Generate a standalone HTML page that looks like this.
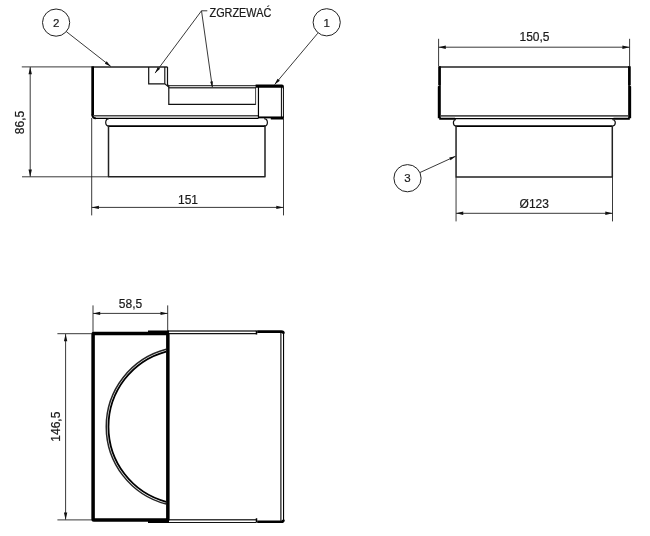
<!DOCTYPE html>
<html lang="pl">
<head>
<meta charset="utf-8">
<title>Rysunek</title>
<style>
html,body{margin:0;padding:0;background:#fff;}
body{width:650px;height:536px;overflow:hidden;}
svg{display:block;filter:grayscale(1);}
text{font-family:"Liberation Sans",sans-serif;fill:#1a1a1a;stroke:#1a1a1a;stroke-width:0.2;}
.dim{stroke:#222;stroke-width:0.9;fill:none;}
.ln{stroke:#111;stroke-width:1.2;fill:none;}
.th{stroke:#111;stroke-width:0.8;fill:none;}
.tk{stroke:#000;stroke-width:2.2;fill:none;}
.ah{fill:#111;stroke:none;}
</style>
</head>
<body>
<svg width="650" height="536" viewBox="0 0 650 536">
<rect width="650" height="536" fill="#fff"/>

<!-- ===== VIEW 1 (front) ===== -->
<g id="v1">
  <!-- extension + dimension lines -->
  <path class="dim" d="M21.8 66.9H92 M22 176.8H108.5 M30.2 67V176.6 M91.7 118V215.4 M283.5 119V215.4 M91.7 207.4H283.5"/>
  <path class="ah" d="M30.2 67l-1.7 7.2h3.4z M30.2 176.8l-1.7-7.2h3.4z M91.7 207.4l7.2-1.7v3.4z M283.5 207.4l-7.2-1.7v3.4z"/>
  <!-- outline -->
  <path d="M92 66.9H167.5" stroke="#222" stroke-width="1.5" fill="none"/>
  <path class="ln" d="M148.7 66.9V83.9H164.8 M167.5 66.9V85"/>
  <path d="M164.8 66.9V83.9" stroke="#111" stroke-width="1.15" fill="none"/>
  <path class="ln" d="M164.8 83.9L168.8 87 M167.5 85L168.8 85.6"/>
  <path class="th" d="M168.6 85.5H257" stroke="#222" stroke-width="0.9"/>
  <path d="M168.6 87.7H256" stroke="#404040" stroke-width="1.7" fill="none"/>
  <path class="ln" d="M168.8 85.5V104.4H255.6" />
  <path class="th" d="M255.6 87.6V104.9" stroke="#222" stroke-width="1"/>
  <path d="M92.65 66.4V115.6" stroke="#000" stroke-width="2.7" fill="none"/>
  <path d="M92.4 114.5Q92.3 118.2 96 118.35" stroke="#000" stroke-width="1.9" fill="none"/>
  <path d="M94 115.8H258.3" stroke="#4a4a4a" stroke-width="1.6" fill="none"/>
  <path d="M95 118.4H258.5" stroke="#000" stroke-width="1.1" fill="none"/>
  <!-- right block -->
  <path d="M258.45 86V117.8" stroke="#000" stroke-width="1.2" fill="none"/>
  <path d="M281.4 87V117.8 M283.4 88V117.5" stroke="#000" stroke-width="1" fill="none"/>
  <path d="M255.6 84.6H281.9Q283.9 84.6 283.9 86.6V88.6H282.8V87.7H255.6Z" fill="#000"/>
  <path d="M258 117.4H283.8" stroke="#000" stroke-width="1.9" fill="none"/>
  <path d="M270.8 117.4H283.8V118.6Q283.8 119.6 282.8 119.6H270.8Z" fill="#000"/>
  <!-- collar -->
  <path class="ln" d="M109 118.6Q105.7 119 105.7 122.4Q105.7 125.8 109 126.1 M264.2 118.6Q267.4 119 267.4 122.4Q267.4 125.8 264.2 126.1"/>
  <path d="M108.4 126.05H265" stroke="#000" stroke-width="1.8" fill="none"/>
  <!-- lower body -->
  <path d="M108.5 126V176.8H265V126" stroke="#222" stroke-width="1.5" fill="none" stroke-linejoin="round"/>
  <!-- balloons -->
  <circle cx="56.1" cy="22.6" r="13.6" fill="none" stroke="#222" stroke-width="1"/>
  <circle cx="326.7" cy="22.3" r="13.6" fill="none" stroke="#222" stroke-width="1"/>
  <path class="dim" d="M66.3 31.6L110.8 66.4 M317.8 33.2L274.6 84.6 M207.3 10.8H201.5L155.1 73.1 M201.5 10.8L212.3 87"/>
  <path class="ah" d="M110.8 66.4L104.83 63.64L106.68 61.28z M274.6 84.6L277.57 78.74L279.87 80.67z M155.1 73.1L157.72 67.07L160.13 68.86z M212.4 87.8L210.17 81.65L212.84 81.27z"/>
  <text x="56.1" y="26.8" font-size="11.5" text-anchor="middle">2</text>
  <text x="326.7" y="26.5" font-size="11.5" text-anchor="middle">1</text>
  <text x="209.5" y="16.5" font-size="12" textLength="61.8" lengthAdjust="spacingAndGlyphs">ZGRZEWAĆ</text>
  <text x="188" y="203.8" font-size="12" text-anchor="middle">151</text>
  <text transform="translate(23.6 122.5) rotate(-90)" font-size="12" text-anchor="middle">86,5</text>
</g>

<!-- ===== VIEW 2 (side) ===== -->
<g id="v2">
  <path class="dim" d="M438.6 38.8V66 M629.6 38.8V66 M438.6 47.2H629.6 M456.05 177V221.4 M612.5 177V221.4 M456.05 213.3H612.5"/>
  <path class="ah" d="M438.6 47.2l7.2-1.7v3.4z M629.6 47.2l-7.2-1.7v3.4z M456.05 213.3l7.2-1.7v3.4z M612.5 213.3l-7.2-1.7v3.4z"/>
  <path d="M439 66.9H630" stroke="#222" stroke-width="1.5" fill="none"/>
  <path d="M439.55 66.2V85.4 M629.4 66.2V85.4" stroke="#000" stroke-width="2.7" fill="none"/>
  <path d="M439.3 85.2V118.3 M629.65 85.2V118.3" stroke="#000" stroke-width="3" fill="none"/>
  <path d="M439.2 118.8H455 M613.5 118.8H629.8" stroke="#000" stroke-width="1.9" fill="none"/>
  <path d="M454 118.5H614" stroke="#000" stroke-width="1.25" fill="none"/>
  <path d="M440.8 115.9H628.2" stroke="#505050" stroke-width="1.7" fill="none"/>
  <path d="M437.3 84.3l1.6 1.2l-1.6 1.6z M631.7 84.3l-1.6 1.2l1.6 1.6z" fill="#fff"/>
  <path class="ln" d="M456 119.5Q453.4 119.8 453.4 122.8Q453.4 125.8 456 126.1 M612.3 119.5Q615.3 119.8 615.3 122.8Q615.3 125.8 612.3 126.1"/>
  <path d="M455.7 126.1H612.4" stroke="#000" stroke-width="1.8" fill="none"/>
  <path d="M456.05 126V176.9H612.3V126" stroke="#222" stroke-width="1.5" fill="none" stroke-linejoin="round"/>
  <circle cx="407.5" cy="178.2" r="13.6" fill="none" stroke="#222" stroke-width="1"/>
  <path class="dim" d="M420 172.5L455.7 156.2"/>
  <path class="ah" d="M455.7 156.2L450.50 160.22L449.26 157.49z"/>
  <text x="407.5" y="182.4" font-size="11.5" text-anchor="middle">3</text>
  <text x="534.5" y="41.2" font-size="12" text-anchor="middle">150,5</text>
  <text x="519.6" y="207.8" font-size="12">Ø123</text>
</g>

<!-- ===== VIEW 3 (top) ===== -->
<g id="v3">
  <path class="dim" d="M93 305.4V332 M167.7 305.4V332 M93 313.4H167.7 M57.4 333.7H92 M57.4 519.9H92 M65.6 334V519.6"/>
  <path class="ah" d="M93 313.4l7.2-1.7v3.4z M167.7 313.4l-7.2-1.7v3.4z M65.6 334l-1.7 7.2h3.4z M65.6 519.7l-1.7-7.2h3.4z"/>
  <!-- right part thin double lines -->
  <path d="M168 331H256.3 M168 519.75H256.3" stroke="#3a3a3a" stroke-width="1.7" fill="none"/>
  <path d="M168 333.6H256.3 M168 522.5H256.3" stroke="#111" stroke-width="1.15" fill="none"/>
  <path d="M256.5 330.6V334.6 M256.5 518.2V522.6" stroke="#000" stroke-width="1.5" fill="none"/>
  <path d="M257.2 331.6H281.4Q283.5 331.6 283.55 333.6 M257.2 521.8H281.4Q283.5 521.8 283.55 519.7" stroke="#000" stroke-width="2.6" fill="none"/>
  <path d="M283.55 333V520.3 M280.9 332.5V520.8" stroke="#000" stroke-width="1.1" fill="none"/>
  <!-- arcs -->
  <path d="M166.2 349.24A79.95 79.95 0 0 0 166.2 504.06" stroke="#262626" stroke-width="1.5" fill="none"/>
  <path d="M166.2 351.52A77.75 77.75 0 0 0 166.2 501.78" stroke="#000" stroke-width="1.8" fill="none"/>
  <!-- thick box -->
  <rect x="93.1" y="333.6" width="74.75" height="186.4" rx="0.6" fill="none" stroke="#000" stroke-width="3.5"/>
  <path d="M148 331.5H169 M148 521.9H169" stroke="#000" stroke-width="2" fill="none"/>
  <text x="130.5" y="307.7" font-size="12" text-anchor="middle">58,5</text>
  <text transform="translate(59.8 426.7) rotate(-90)" font-size="12" text-anchor="middle">146,5</text>
</g>
</svg>
</body>
</html>
